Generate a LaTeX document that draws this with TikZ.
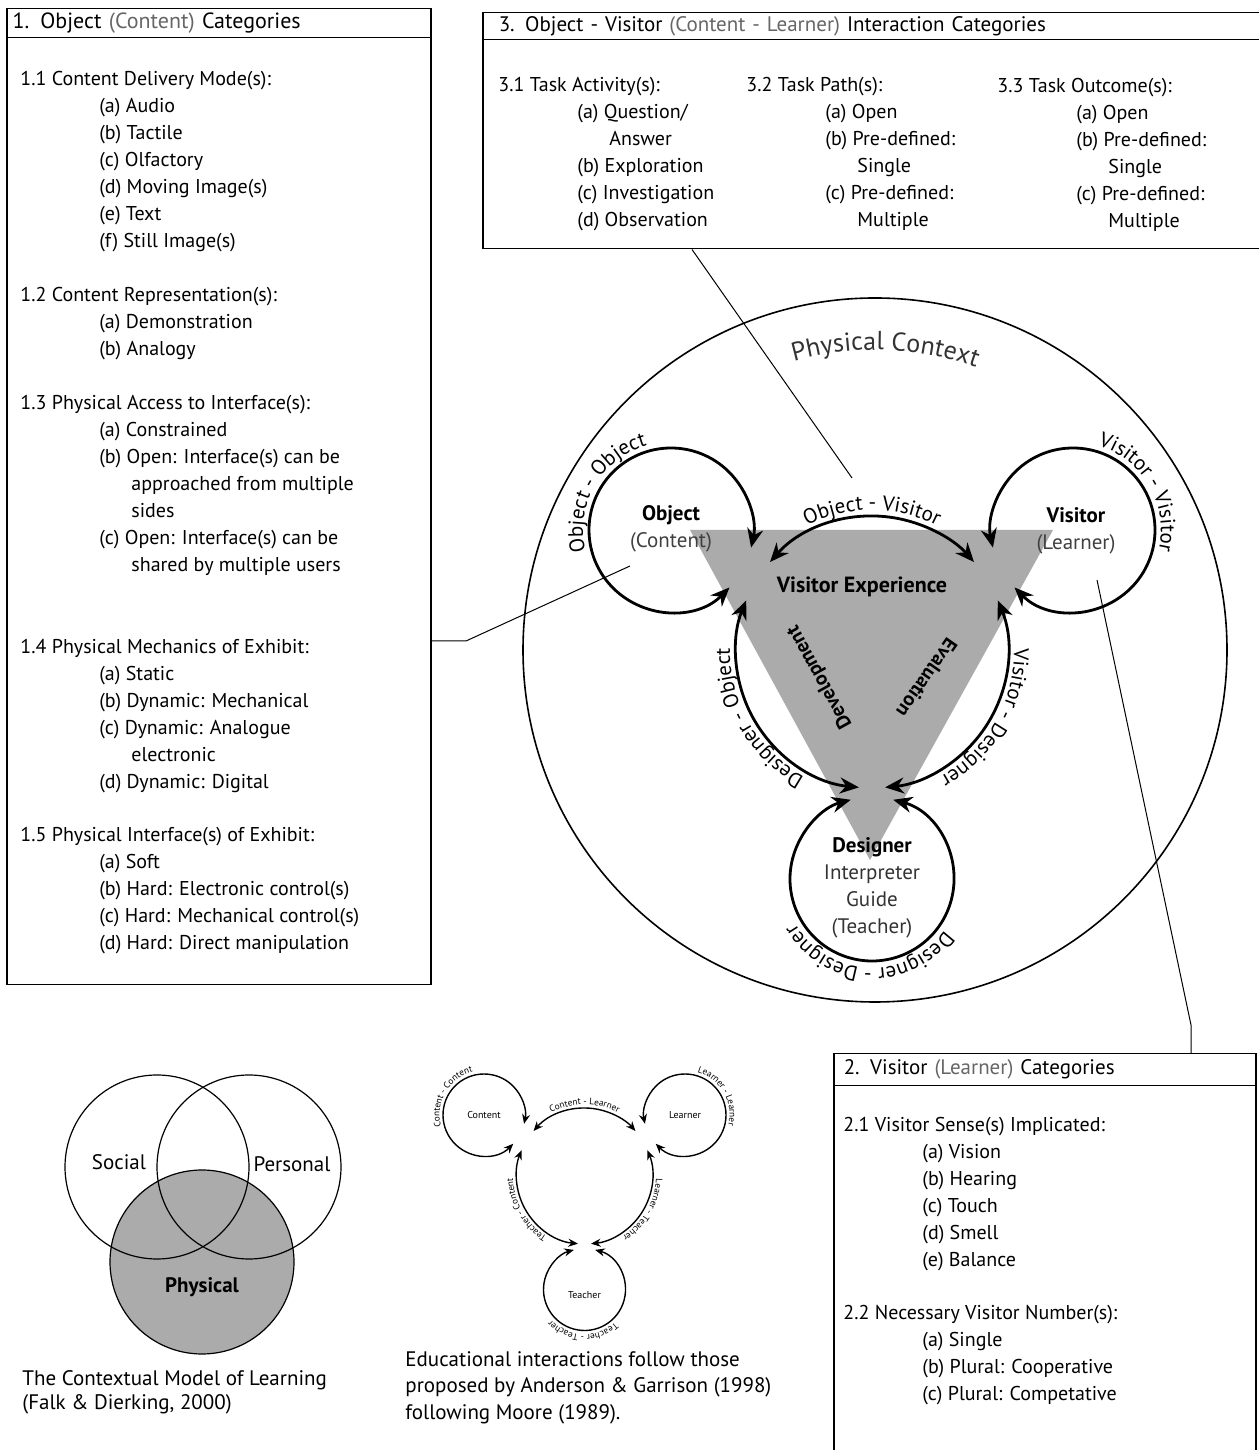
\documentclass[tikz,border=0pt]{standalone}
\usepackage{fontspec}
\setmainfont{PT Sans}
\usetikzlibrary{arrows.meta, positioning, decorations.text}

\newcommand{\itemind}{\hspace*{39.5pt}}
\newcommand{\contind}{\hspace*{55.5pt}}
\newcommand{\arcfont}{\fontsize{10.5}{12}\selectfont}
\newcommand{\tinyfont}{\fontsize{4.6}{5}\selectfont}

\tikzset{
  box/.style={draw, line width=0.75pt, anchor=north west, inner sep=0pt},
  hdr/.style={draw, line width=0.75pt, anchor=north west, align=left, inner ysep=0pt,
              font=\fontsize{10.5}{12}\selectfont},
  sect/.style={anchor=north west, align=left, inner sep=0pt, font=\fontsize{10}{13.5}\selectfont},
  conn/.style={line width=0.5pt},
  bigarr/.style={line width=1.4pt, <->, >={Stealth[length=9.5pt,width=8pt]}},
  smallarr/.style={line width=0.7pt, <->, >={Stealth[length=4.8pt,width=4pt]}},
  arclab/.style={decorate, decoration={text along path, text align=center, text={#1}}},
  capt/.style={anchor=north west, align=left, inner sep=0pt, font=\fontsize{10.5}{13.25}\selectfont},
}

\begin{document}
\begin{tikzpicture}[x=0.5pt, y=0.5pt]
  \useasboundingbox (0,0) rectangle (1258,1450);

  % 1. object categories
  \node[box, minimum width=212pt, minimum height=488pt] (box1) at (6,1442) {};
  \node[hdr, minimum width=212pt, minimum height=14.5pt, text width=206pt, inner xsep=3pt,
        font=\fontsize{11}{12}\selectfont] (hd1) at (6,1442)
        {1. Object {\color{black!60}(Content)} Categories};
  \node[sect] (s11) at (20,1379) {1.1 Content Delivery Mode(s):\\
    \itemind(a) Audio\\ \itemind(b) Tactile\\ \itemind(c) Olfactory\\
    \itemind(d) Moving Image(s)\\ \itemind(e) Text\\ \itemind(f) Still Image(s)};
  \node[sect] (s12) at (20,1163) {1.2 Content Representation(s):\\
    \itemind(a) Demonstration\\ \itemind(b) Analogy};
  \node[sect] (s13) at (20,1055) {1.3 Physical Access to Interface(s):\\
    \itemind(a) Constrained\\ \itemind(b) Open: Interface(s) can be\\
    \contind approached from multiple\\ \contind sides\\
    \itemind(c) Open: Interface(s) can be\\ \contind shared by multiple users};
  \node[sect] (s14) at (20,811) {1.4 Physical Mechanics of Exhibit:\\
    \itemind(a) Static\\ \itemind(b) Dynamic: Mechanical\\ \itemind(c) Dynamic: Analogue\\
    \contind electronic\\ \itemind(d) Dynamic: Digital};
  \node[sect] (s15) at (20,623) {1.5 Physical Interface(s) of Exhibit:\\
    \itemind(a) Soft\\ \itemind(b) Hard: Electronic control(s)\\
    \itemind(c) Hard: Mechanical control(s)\\ \itemind(d) Hard: Direct manipulation};

  % 3. interaction categories
  \node[box, minimum width=395pt, minimum height=118pt] (box3) at (482,1438) {};
  \node[hdr, minimum width=395pt, minimum height=13.5pt, text width=379pt, inner xsep=8pt] (hd3)
        at (482,1438) {3. Object - Visitor {\color{black!60}(Content - Learner)} Interaction Categories};
  \node[sect] (s31) at (498,1373) {3.1 Task Activity(s):\\
    \itemind(a) Question/\\ \contind Answer\\ \itemind(b) Exploration\\
    \itemind(c) Investigation\\ \itemind(d) Observation};
  \node[sect] (s32) at (746,1373) {3.2 Task Path(s):\\
    \itemind(a) Open\\ \itemind(b) Pre-defined:\\ \contind Single\\
    \itemind(c) Pre-defined:\\ \contind Multiple};
  \node[sect] (s33) at (997,1372) {3.3 Task Outcome(s):\\
    \itemind(a) Open\\ \itemind(b) Pre-defined:\\ \contind Single\\
    \itemind(c) Pre-defined:\\ \contind Multiple};

  % 2. visitor categories
  \node[box, minimum width=211pt, minimum height=210pt] (box2) at (833,397) {};
  \node[hdr, minimum width=211pt, minimum height=16pt, text width=201pt, inner xsep=5pt] (hd2)
        at (833,397) {2. Visitor {\color{black!60}(Learner)} Categories};
  \node[sect] (s21) at (843,333) {2.1 Visitor Sense(s) Implicated:\\
    \itemind(a) Vision\\ \itemind(b) Hearing\\ \itemind(c) Touch\\
    \itemind(d) Smell\\ \itemind(e) Balance};
  \node[sect] (s22) at (843,145) {2.2 Necessary Visitor Number(s):\\
    \itemind(a) Single\\ \itemind(b) Plural: Cooperative\\ \itemind(c) Plural: Competative};

  % central model
  \coordinate (ctx) at (875,800);
  \coordinate (ring) at (872,798);
  \coordinate (objC) at (671,920);
  \coordinate (visC) at (1073,920);
  \coordinate (desC) at (872,571);

  \fill[black!33] (690,920) -- (1053,920) -- (870,590) -- cycle;
  \draw[line width=0.8pt] (ctx) circle[radius=352];
  \path[arclab={|\fontsize{13}{15}\selectfont\color{black!80}|Physical Context}]
    (ctx) ++(122:300) arc[start angle=122, end angle=54, radius=300];

  \node[align=center, font=\fontsize{10.5}{13.5}\selectfont] (obj) at (671,921)
    {\textbf{Object}\\{\color{black!75}(Content)}};
  \node[align=center, font=\fontsize{10.5}{13.5}\selectfont] (vis) at (1076,919)
    {\textbf{Visitor}\\{\color{black!75}(Learner)}};
  \node[align=center, font=\fontsize{10.5}{13.5}\selectfont] (des) at (872,562)
    {\textbf{Designer}\\{\color{black!80}Interpreter}\\{\color{black!80}Guide}\\{\color{black!80}(Teacher)}};
  \node[font=\bfseries\fontsize{11}{13}\selectfont] (vexp) at (862,863) {Visitor Experience};
  \node[rotate=119, font=\bfseries\fontsize{10}{12}\selectfont] (dev) at (820,773) {Development};
  \node[rotate=-125, font=\bfseries\fontsize{10}{12}\selectfont] (eva) at (927,772) {Evaluation};

  \draw[bigarr] (objC) ++(-44.5:82) arc[start angle=-44.5, end angle=-372.4, radius=82];
  \draw[bigarr] (visC) ++(224.5:82) arc[start angle=224.5, end angle=552.4, radius=82];
  \draw[bigarr] (desC) ++(75:82) arc[start angle=75, end angle=-255, radius=82];
  \draw[bigarr] (ring) ++(138.6:136) arc[start angle=138.6, end angle=41.4, radius=136];
  \draw[bigarr] (ring) ++(-95.5:136) arc[start angle=-95.5, end angle=-202.3, radius=136];
  \draw[bigarr] (ring) ++(22.3:136) arc[start angle=22.3, end angle=-84.5, radius=136];

  \path[arclab={|\arcfont|Object - Object}] (objC) ++(215:88) arc[start angle=215, end angle=85, radius=88];
  \path[arclab={|\arcfont|Visitor - Visitor}] (visC) ++(95:88) arc[start angle=95, end angle=-35, radius=88];
  \path[arclab={|\arcfont|Designer - Designer}] (desC) ++(-15:89) arc[start angle=-15, end angle=-170, radius=89];
  \path[arclab={|\arcfont|Object - Visitor}] (ring) ++(135:142) arc[start angle=135, end angle=45, radius=142];
  \path[arclab={|\arcfont|Designer - Object}] (ring) ++(255:142) arc[start angle=255, end angle=165, radius=142];
  \path[arclab={|\arcfont|Visitor - Designer}] (ring) ++(15:142) arc[start angle=15, end angle=-75, radius=142];

  % leader lines to the category boxes
  \coordinate (ovPt) at (852,972);
  \coordinate (objPt) at (630,884);
  \coordinate (visPt) at (1097,870);
  \coordinate (b1) at (466,809);
  \coordinate (b2) at (1191,425);
  \draw[conn] ([xshift=105pt]box3.south west) -- (ovPt);
  \draw[conn] (box1.east |- b1) -- (b1) -- (objPt);
  \draw[conn] (visPt) -- (b2) -- (b2 |- box2.north);

  % contextual model
  \fill[black!33] (202,188) circle[radius=92];
  \draw[line width=0.6pt] (202,188) circle[radius=92];
  \draw[line width=0.6pt] (157,283) circle[radius=92];
  \draw[line width=0.6pt] (249,283) circle[radius=92];
  \node[font=\fontsize{10.5}{12}\selectfont] (soc) at (119,288) {Social};
  \node[font=\fontsize{10.5}{12}\selectfont] (per) at (292,286) {Personal};
  \node[font=\bfseries\fontsize{10.5}{12}\selectfont] (phy) at (202,163) {Physical};
  \node[capt, font=\fontsize{10.5}{12}\selectfont] (cml) at (22,80)
    {The Contextual Model of Learning\\(Falk \& Dierking, 2000)};

  % educational interactions (half size)
  \begin{scope}[shift={(148.5,-125)}, scale=0.5]
    \coordinate (cC) at (671,920);
    \coordinate (lC) at (1073,920);
    \coordinate (tC) at (872,571);
    \coordinate (sring) at (872,798);
    \node[font=\fontsize{5}{6}\selectfont] (cont) at (671,920) {Content};
    \node[font=\fontsize{5}{6}\selectfont] (lrn) at (1073,920) {Learner};
    \node[font=\fontsize{5}{6}\selectfont] (tch) at (872,560) {Teacher};
    \draw[smallarr] (cC) ++(-44.5:82) arc[start angle=-44.5, end angle=-372.4, radius=82];
    \draw[smallarr] (lC) ++(224.5:82) arc[start angle=224.5, end angle=552.4, radius=82];
    \draw[smallarr] (tC) ++(75:82) arc[start angle=75, end angle=-255, radius=82];
    \draw[smallarr] (sring) ++(138.6:136) arc[start angle=138.6, end angle=41.4, radius=136];
    \draw[smallarr] (sring) ++(-95.5:136) arc[start angle=-95.5, end angle=-202.3, radius=136];
    \draw[smallarr] (sring) ++(22.3:136) arc[start angle=22.3, end angle=-84.5, radius=136];
    \path[arclab={|\tinyfont|Content - Content}] (cC) ++(215:89) arc[start angle=215, end angle=85, radius=89];
    \path[arclab={|\tinyfont|Learner - Learner}] (lC) ++(95:89) arc[start angle=95, end angle=-35, radius=89];
    \path[arclab={|\tinyfont|Teacher - Teacher}] (tC) ++(-15:90) arc[start angle=-15, end angle=-170, radius=90];
    \path[arclab={|\tinyfont|Content - Learner}] (sring) ++(135:143) arc[start angle=135, end angle=45, radius=143];
    \path[arclab={|\tinyfont|Teacher - Content}] (sring) ++(255:143) arc[start angle=255, end angle=165, radius=143];
    \path[arclab={|\tinyfont|Learner - Teacher}] (sring) ++(15:143) arc[start angle=15, end angle=-75, radius=143];
  \end{scope}
  \node[capt] (edu) at (405,99) {Educational interactions follow those\\
    proposed by Anderson \& Garrison (1998)\\following Moore (1989).};
\end{tikzpicture}
\end{document}
